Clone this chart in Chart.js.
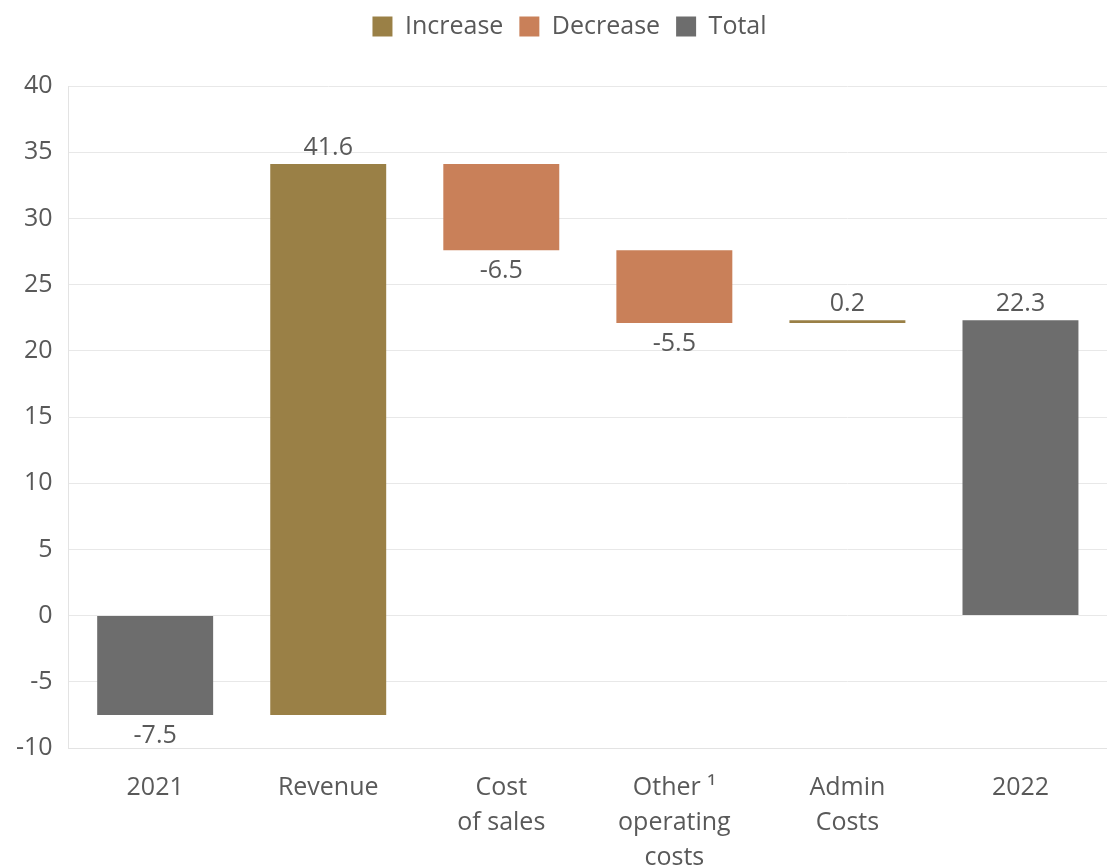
<!DOCTYPE html>
<html>
<head>
<meta charset="utf-8">
<script src="https://cdn.jsdelivr.net/npm/chart.js@4/dist/chart.umd.min.js"></script>
<style>
  html, body { margin: 0; padding: 0; background: #fff; }
  #wrap { width: 1107px; height: 867px; position: relative; }
</style>
</head>
<body>
<div id="wrap"><canvas id="chart"></canvas></div>
<script>
// waterfall data
const categories = [['2021'], ['Revenue'], ['Cost', 'of sales'], ['Other \u00b9', 'operating', 'costs'], ['Admin', 'Costs'], ['2022']];
const changes    = [-7.5, 41.6, -6.5, -5.5, 0.2, 22.3];
const kinds      = ['total', 'inc', 'dec', 'dec', 'inc', 'total'];
const yTicks     = { min: -10, max: 40, step: 5 };

const COLORS = { inc: '#9a8046', dec: '#c98059', total: '#6d6d6d' };
const TEXT   = '#595959';
const FONT   = '"Open Sans", "Noto Sans", sans-serif';
const SIZE   = 25;

// build floating [from, to] ranges for each kind
const ranges = [];
let running = 0;
changes.forEach((v, i) => {
  if (kinds[i] === 'total') {
    ranges.push([0, v]);
    running = v;
  } else {
    ranges.push([running, running + v]);
    running = +(running + v).toFixed(2);
  }
});

const pick = kind => ranges.map((r, i) => (kinds[i] === kind ? r : null));

const labelPlugin = {
  id: 'barLabels',
  afterDatasetsDraw(chart) {
    const ctx = chart.ctx;
    ctx.save();
    ctx.font = SIZE + 'px ' + FONT;
    ctx.fillStyle = TEXT;
    ctx.textAlign = 'center';
    ctx.textBaseline = 'middle';
    chart.data.datasets.forEach((ds, di) => {
      chart.getDatasetMeta(di).data.forEach((bar, i) => {
        if (!ds.data[i]) return;
        const v = changes[i];
        const top = Math.min(bar.y, bar.base);
        const bottom = Math.max(bar.y, bar.base);
        const y = v >= 0 ? top - 16 : bottom + 21;
        ctx.fillText(v.toFixed(1), bar.x, y);
      });
    });
    ctx.restore();
  },
};

// extra room under the legend, and nudge it a bit right
const legendGap = {
  id: 'legendGap',
  beforeInit(chart) {
    const fit = chart.legend.fit;
    chart.legend.fit = function () {
      fit.bind(chart.legend)();
      this.height += 37;
    };
  },
  afterLayout(chart) {
    chart.legend.left += 16;
    chart.legend.right += 16;
  },
};

new Chart(document.getElementById('chart'), {
  type: 'bar',
  data: {
    labels: categories,
    datasets: [
      { label: 'Increase', data: pick('inc'),   backgroundColor: COLORS.inc },
      { label: 'Decrease', data: pick('dec'),   backgroundColor: COLORS.dec },
      { label: 'Total',    data: pick('total'), backgroundColor: COLORS.total },
    ],
  },
  options: {
    responsive: true,
    maintainAspectRatio: false,
    animation: false,
    datasets: { bar: { grouped: false, categoryPercentage: 0.67, barPercentage: 1 } },
    layout: { padding: { left: 0, right: 0, top: -2, bottom: -22 } },
    plugins: {
      legend: {
        position: 'top',
        labels: {
          boxWidth: 20,
          boxHeight: 20,
          color: TEXT,
          padding: 16,
          font: { size: SIZE, family: FONT },
        },
      },
      tooltip: { enabled: false },
    },
    scales: {
      x: {
        grid: { display: false },
        border: { color: '#e3e3e3' },
        ticks: { color: TEXT, font: { size: SIZE, family: FONT, lineHeight: 1.4 }, padding: 14, maxRotation: 0, autoSkip: false },
      },
      y: {
        min: yTicks.min,
        max: yTicks.max,
        ticks: { stepSize: yTicks.step, color: TEXT, font: { size: SIZE, family: FONT }, padding: 16 },
        grid: { color: '#e8e8e8', drawTicks: false },
        border: { color: '#e3e3e3' },
      },
    },
  },
  plugins: [labelPlugin, legendGap],
});
</script>
</body>
</html>
